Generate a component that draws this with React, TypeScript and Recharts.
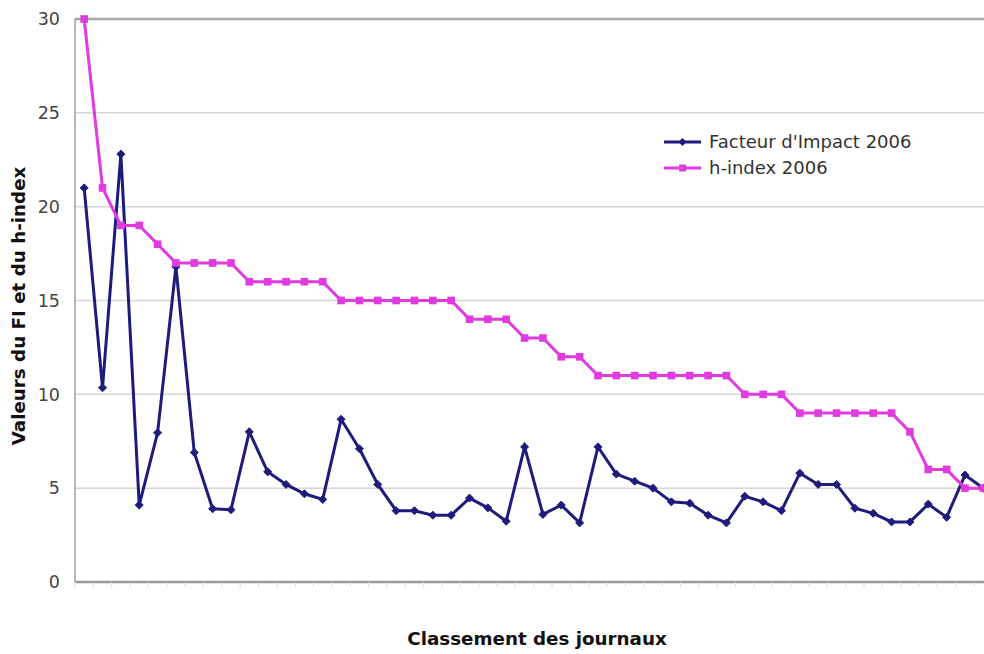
import React from 'react';
import { LineChart, Line, XAxis, YAxis, CartesianGrid, Legend, ReferenceLine } from 'recharts';

const ranks = [1, 2, 3, 4, 5, 6, 7, 8, 9, 10, 11, 12, 13, 14, 15, 16, 17, 18, 19, 20, 21, 22, 23, 24, 25, 26, 27, 28, 29, 30, 31, 32, 33, 34, 35, 36, 37, 38, 39, 40, 41, 42, 43, 44, 45, 46, 47, 48, 49, 50];

const facteurImpact = [21.0, 10.35, 22.8, 4.1, 7.95, 16.8, 6.9, 3.9, 3.85, 8.0, 5.87, 5.2, 4.7, 4.4, 8.67, 7.1, 5.2, 3.8, 3.8, 3.56, 3.56, 4.47, 3.95, 3.24, 7.2, 3.6, 4.1, 3.15, 7.2, 5.75, 5.37, 5.0, 4.27, 4.2, 3.56, 3.15, 4.57, 4.27, 3.8, 5.8, 5.2, 5.2, 3.93, 3.66, 3.2, 3.2, 4.15, 3.45, 5.7, 5.0];

const hIndex = [30, 21, 19, 19, 18, 17, 17, 17, 17, 16, 16, 16, 16, 16, 15, 15, 15, 15, 15, 15, 15, 14, 14, 14, 13, 13, 12, 12, 11, 11, 11, 11, 11, 11, 11, 11, 10, 10, 10, 9, 9, 9, 9, 9, 9, 8, 6, 6, 5, 5];

const yTicks = [0, 5, 10, 15, 20, 25, 30];
const xBoundaries = [0.5, 1.5, 2.5, 3.5, 4.5, 5.5, 6.5, 7.5, 8.5, 9.5, 10.5, 11.5, 12.5, 13.5, 14.5, 15.5, 16.5, 17.5, 18.5, 19.5, 20.5, 21.5, 22.5, 23.5, 24.5, 25.5, 26.5, 27.5, 28.5, 29.5, 30.5, 31.5, 32.5, 33.5, 34.5, 35.5, 36.5, 37.5, 38.5, 39.5, 40.5, 41.5, 42.5, 43.5, 44.5, 45.5, 46.5, 47.5, 48.5, 49.5, 50.5];

const seriesNames = ["Facteur d'Impact 2006", 'h-index 2006'];
const NAVY = '#1f1b7c';
const MAGENTA = '#e03ae0';
const FONT = '"DejaVu Sans", Verdana, sans-serif';

const data = ranks.map((r, i) => ({ rank: r, fi: facteurImpact[i], h: hIndex[i] }));

const DiamondDot = (props: any) => {
  const { cx, cy } = props;
  if (cx == null || cy == null) return null;
  const s = 4;
  return <path d={`M${cx},${cy - s}L${cx + s},${cy}L${cx},${cy + s}L${cx - s},${cy}Z`} fill={NAVY} stroke={NAVY} strokeWidth={1} />;
};

const SquareDot = (props: any) => {
  const { cx, cy } = props;
  if (cx == null || cy == null) return null;
  const s = 3.8;
  return <rect x={cx - s} y={cy - s} width={2 * s} height={2 * s} fill={MAGENTA} />;
};

const renderLegend = () => (
  <div style={{ fontFamily: FONT, fontSize: 18, color: '#333', lineHeight: '26px' }}>
    <div style={{ display: 'flex', alignItems: 'center' }}>
      <svg width={45} height={12} style={{ display: 'block' }}>
        <line x1={0} y1={6} x2={37} y2={6} stroke={NAVY} strokeWidth={3} />
        <path d="M18.5,2L22.5,6L18.5,10L14.5,6Z" fill={NAVY} />
      </svg>
      <span>{seriesNames[0]}</span>
    </div>
    <div style={{ display: 'flex', alignItems: 'center' }}>
      <svg width={45} height={12} style={{ display: 'block' }}>
        <line x1={0} y1={6} x2={37} y2={6} stroke={MAGENTA} strokeWidth={3} />
        <rect x={15} y={2.5} width={7} height={7} fill={MAGENTA} />
      </svg>
      <span>{seriesNames[1]}</span>
    </div>
  </div>
);

const YLabel = () => (
  <text x={18} y={306} transform="rotate(-90 18 306)" textAnchor="middle" dominantBaseline="central"
    fontFamily={FONT} fontWeight="bold" fontSize={18.3} fill="#111">
    Valeurs du FI et du h-index
  </text>
);

const XLabel = () => (
  <text x={537} y={645} textAnchor="middle" fontFamily={FONT} fontWeight="bold" fontSize={18.3} fill="#111">
    Classement des journaux
  </text>
);

export default function App() {
  return (
    <div style={{ position: 'absolute', left: 0, top: 0, width: 984, height: 654, overflow: 'hidden', background: '#fff' }}>
      <LineChart width={1000} height={654} data={data} margin={{ top: 19, right: 7.5, left: 0, bottom: 0 }}>
        <CartesianGrid vertical={false} stroke="#d6d6d6" strokeWidth={1.5} />
        <ReferenceLine y={30} stroke="#a8a8a8" strokeWidth={2.5} />
        <XAxis
          dataKey="rank"
          type="number"
          domain={[0.5, 50.5]}
          ticks={xBoundaries}
          interval={0}
          tickFormatter={() => ''}
          height={72}
          axisLine={{ stroke: '#9a9a9a', strokeWidth: 2.5 }}
          tickLine={{ stroke: '#dadada', strokeWidth: 1 }}
          tickSize={5}
          label={<XLabel />}
        />
        <YAxis
          type="number"
          domain={[0, 30]}
          ticks={yTicks}
          interval={0}
          width={75}
          axisLine={{ stroke: '#a0a0a0', strokeWidth: 1.5 }}
          tickLine={false}
          tickSize={6}
          tickMargin={9}
          tick={{ fontFamily: FONT, fontSize: 17.5, fill: '#444' }}
          label={<YLabel />}
        />
        <Legend
          layout="horizontal"
          verticalAlign="middle"
          align="center"
          content={renderLegend}
          wrapperStyle={{ position: 'absolute', left: 664, top: 129, width: 300, height: 52 }}
        />
        <Line dataKey="fi" name={seriesNames[0]} stroke={NAVY} strokeWidth={3} dot={<DiamondDot />} isAnimationActive={false} />
        <Line dataKey="h" name={seriesNames[1]} stroke={MAGENTA} strokeWidth={3} dot={<SquareDot />} isAnimationActive={false} />
      </LineChart>
    </div>
  );
}
